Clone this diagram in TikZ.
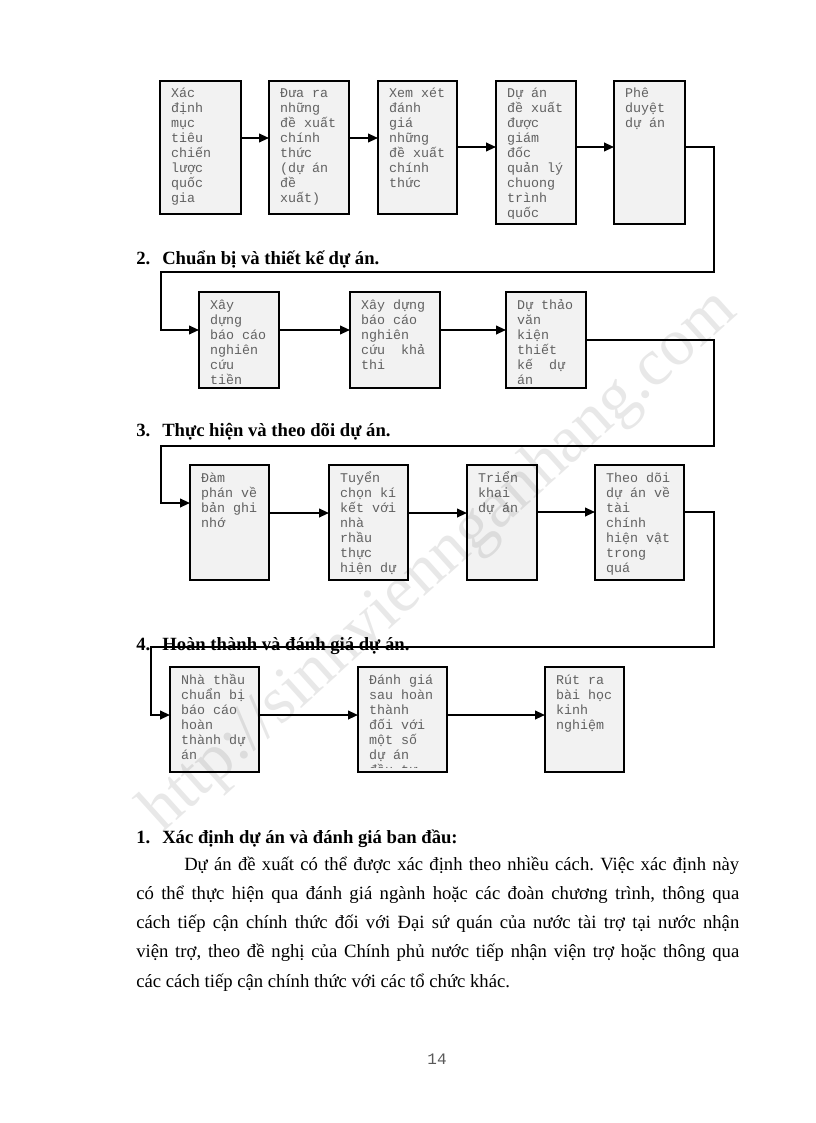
\documentclass[tikz,border=0pt]{standalone}
\usepackage{fontspec}
\setmainfont{Liberation Serif}
\setmonofont{Liberation Mono}
\usetikzlibrary{calc,arrows.meta}
\frenchspacing

\tikzset{
  flowbox/.style={draw=black, line width=1.5pt, fill=black!5, inner sep=0pt, outer sep=0pt, rectangle},
  boxtext/.style={anchor=base west, inner sep=0pt, text=black!62, font=\fontsize{10pt}{11.25pt}\ttfamily},
  conn/.style={line width=1.4pt, draw=black, -{Triangle[length=7.5pt,width=6.5pt]}},
  head/.style={anchor=base west, inner sep=0pt, font=\fontsize{14pt}{16pt}\selectfont\bfseries},
}

\newcommand\flowstep[6]{%
  \node[flowbox, minimum width={(#4-#2)*0.75pt}, minimum height={(#5-#3)*0.75pt}, anchor=north west,
    path picture={%
      \clip (path picture bounding box.north west) rectangle ($(path picture bounding box.south east)+(0,-5)$);
      \node[boxtext] at ($(path picture bounding box.north west)+(11,17)$) {\parbox[t]{150pt}{#6}};}]
    (#1) at (#2,#3) {};}

\begin{document}
\begin{tikzpicture}[x=0.75pt, y=-0.75pt]
\fill[white] (0,0) rectangle (816,1123);
\useasboundingbox (0,0) rectangle (816,1123);

% headings
\node[head] (h2) at (136,264) {\makebox[19.5pt][l]{2.}Chuẩn bị và thiết kế dự án.};
\node[head] (h3) at (136,436) {\makebox[19.5pt][l]{3.}Thực hiện và theo dõi dự án.};
\node[head] (h4) at (136,650) {\makebox[19.5pt][l]{4.}Hoàn thành và đánh giá dự án.};

% row 1
\flowstep{a1}{160}{81}{241}{214}{Xác\\định\\mục\\tiêu\\chiến\\lược\\quốc\\gia}
\flowstep{a2}{269}{81}{349}{214}{Đưa ra\\những\\đề xuất\\chính\\thức\\(dự án\\đề\\xuất)}
\flowstep{a3}{378}{81}{457}{214}{Xem xét\\đánh\\giá\\những\\đề xuất\\chính\\thức}
\flowstep{a4}{496}{81}{576}{224}{Dự án\\đề xuất\\được\\giám\\đốc\\quản lý\\chuong\\trình\\quốc}
\flowstep{a5}{614}{81}{685}{224}{Phê\\duyệt\\dự án}

% row 2
\flowstep{b1}{199}{292}{279}{388}{Xây\\dựng\\báo cáo\\nghiên\\cứu\\tiền}
\flowstep{b2}{350}{292}{440}{388}{Xây dựng\\báo cáo\\nghiên\\cứu~ khả\\thi}
\flowstep{b3}{506}{292}{586}{388}{Dự thảo\\văn\\kiện\\thiết\\kế~ dự\\án}

% row 3
\flowstep{c1}{190}{465}{269}{580}{Đàm\\phán về\\bản ghi\\nhớ}
\flowstep{c2}{329}{465}{408}{580}{Tuyển\\chọn kí\\kết với\\nhà\\rhầu\\thực\\hiện dự}
\flowstep{c3}{467}{465}{537}{580}{Triển\\khai\\dự án}
\flowstep{c4}{595}{465}{684}{580}{Theo dõi\\dự án về\\tài\\chính\\hiện vật\\trong\\quá}

% row 4
\flowstep{d1}{170}{667}{259}{772}{Nhà thầu\\chuẩn bị\\báo cáo\\hoàn\\thành dự\\án}
\flowstep{d2}{358}{667}{447}{772}{Đánh giá\\sau hoàn\\thành\\đối với\\một số\\dự án\\đầu tư}
\flowstep{d3}{545}{667}{624}{772}{Rút ra\\bài học\\kinh\\nghiệm}

% connectors row 1
\draw[conn] (a1.east |- 0,138) -- (a2.west |- 0,138);
\draw[conn] (a2.east |- 0,138) -- (a3.west |- 0,138);
\draw[conn] (a3.east |- 0,147) -- (a4.west |- 0,147);
\draw[conn] (a4.east |- 0,147) -- (a5.west |- 0,147);
\draw[conn] (a5.east |- 0,147) -- (714,147) -- (714,272) -- (161,272) -- (161,330) -- (b1.west |- 0,330);

% row 2
\draw[conn] (b1.east |- 0,330) -- (b2.west |- 0,330);
\draw[conn] (b2.east |- 0,330) -- (b3.west |- 0,330);
\draw[conn] (b3.east |- 0,340) -- (714,340) -- (714,446) -- (161,446) -- (161,503) -- (c1.west |- 0,503);

% row 3
\draw[conn] (c1.east |- 0,513) -- (c2.west |- 0,513);
\draw[conn] (c2.east |- 0,513) -- (c3.west |- 0,513);
\draw[conn] (c3.east |- 0,512) -- (c4.west |- 0,512);
\draw[conn] (c4.east |- 0,512) -- (714,512) -- (714,647) -- (151,647) -- (151,715) -- (d1.west |- 0,715);

% row 4
\draw[conn] (d1.east |- 0,715) -- (d2.west |- 0,715);
\draw[conn] (d2.east |- 0,715) -- (d3.west |- 0,715);

% text below
\node[head] (h1) at (136,843) {\makebox[19.5pt][l]{1.}Xác định dự án và đánh giá ban đầu:};
\node[anchor=base west, inner sep=0pt] (para) at (136,870) {\parbox[t]{452.25pt}{\fontsize{14pt}{21.94pt}\selectfont
\makebox[\linewidth][s]{\hspace*{36pt}Dự án đề xuất có thể được xác định theo nhiều cách. Việc xác định này}\\
\makebox[\linewidth][s]{có thể thực hiện qua đánh giá ngành hoặc các đoàn chương trình, thông qua}\\
\makebox[\linewidth][s]{cách tiếp cận chính thức đối với Đại sứ quán của nước tài trợ tại nước nhận}\\
\makebox[\linewidth][s]{viện trợ, theo đề nghị của Chính phủ nước tiếp nhận viện trợ hoặc thông qua}\\
các cách tiếp cận chính thức với các tổ chức khác.}};

\node[anchor=base, inner sep=0pt, text=black!65, font=\fontsize{12pt}{14pt}\ttfamily] (pg) at (437,1064) {14};

% watermark
\node[rotate=42, inner sep=0pt, text=black, text opacity=0.09, font=\fontsize{50pt}{50pt}\selectfont] (wm) at (440,562) {http://sinhviennganhang.com};
\end{tikzpicture}
\end{document}
